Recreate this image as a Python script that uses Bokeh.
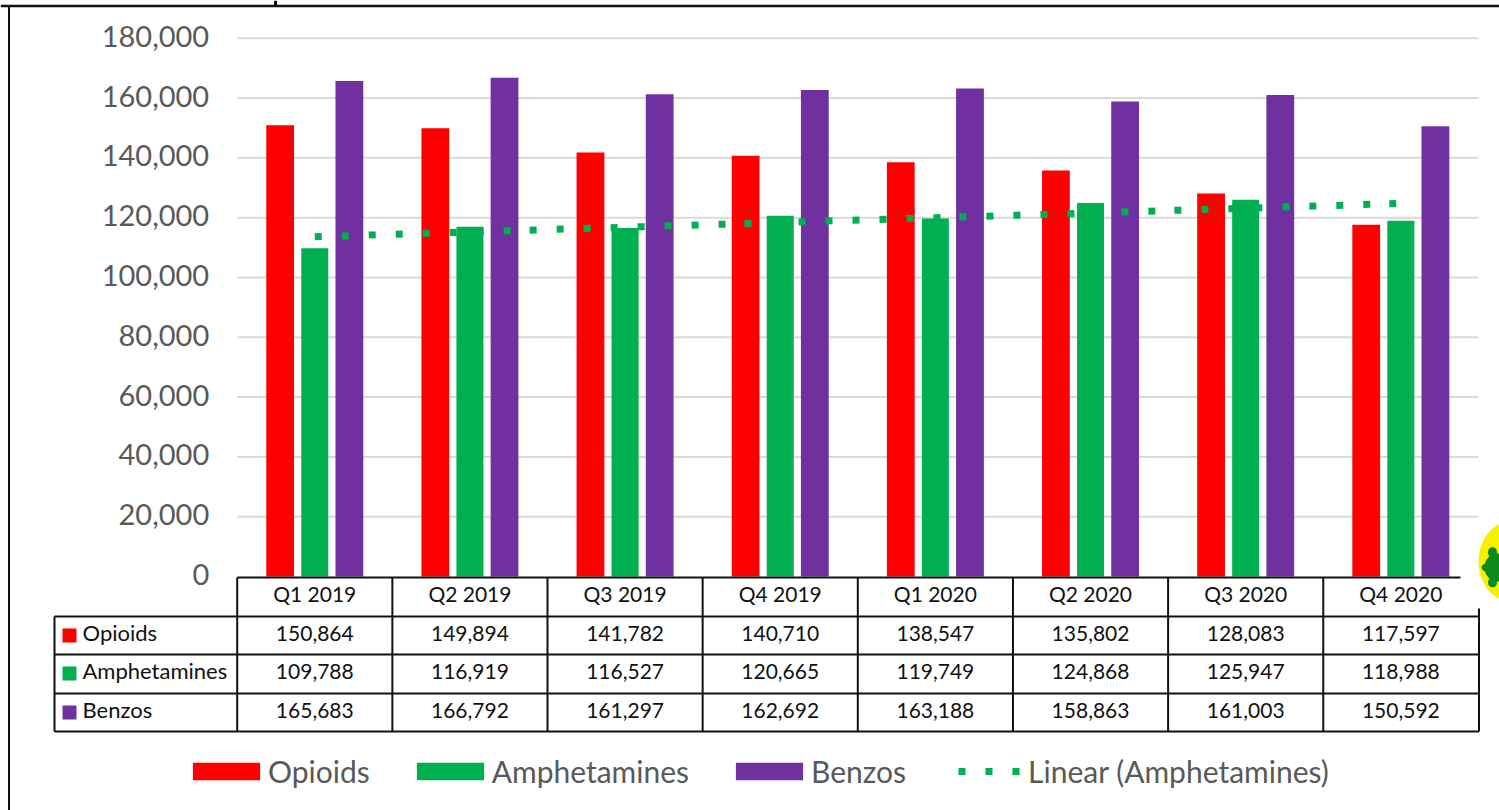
from bokeh.plotting import figure
from bokeh.models import LinearAxis, FixedTicker, NumeralTickFormatter, Legend, LegendItem, Range1d
from bokeh.core.properties import value
from bokeh.embed import file_html
from bokeh.resources import INLINE

quarters = ["Q1 2019", "Q2 2019", "Q3 2019", "Q4 2019", "Q1 2020", "Q2 2020", "Q3 2020", "Q4 2020"]
opioids = [150864, 149894, 141782, 140710, 138547, 135802, 128083, 117597]
amphetamines = [109788, 116919, 116527, 120665, 119749, 124868, 125947, 118988]
benzos = [165683, 166792, 161297, 162692, 163188, 158863, 161003, 150592]
linear_amphetamines = [113610, 115200, 116790, 118380, 119980, 121570, 123160, 124750]
y_ticks = [0, 20000, 40000, 60000, 80000, 100000, 120000, 140000, 160000, 180000]
series_names = ["Opioids", "Amphetamines", "Benzos"]
series_colors = ["#FF0000", "#00B050", "#7030A0"]
FONT = "Lato"
W, H = 1499, 810
PX0, PW = 236.7, 155.15      # plot-area left edge and width of one quarter, px
PY0, PY180 = 576.0, 37.7     # pixel rows of y=0 and y=180000
K = 180000 / (PY0 - PY180)

def fx(px):
    return (px - PX0) / PW

def fy(py):
    return (PY0 - py) * K

p = figure(width=W, height=H, output_backend="svg", toolbar_location=None,
           x_range=Range1d(fx(0), fx(W)), y_range=Range1d(fy(H), fy(0)),
           x_axis_location=None, y_axis_location=None, min_border=0,
           outline_line_color=None, background_fill_color="white", border_fill_color="white")
p.grid.visible = False
p.styles = {"position": "absolute", "left": "0px", "top": "0px"}
# tick labels sit 2px above their gridlines in the reference
p.extra_y_ranges = {"labels": Range1d(fy(H) - 2 * K, fy(0) - 2 * K)}

# gridlines
gt = [t for t in y_ticks if t > 0]
p.segment(x0=[0] * len(gt), x1=[8] * len(gt), y0=gt, y1=gt, line_color="#D9D9D9", line_width=2)

# bars and trend
centers = [i + 0.5 for i in range(8)]
off = 34.6 / PW
bw = 27.8 / PW
r1 = p.vbar(x=[c - off for c in centers], top=opioids, width=bw, bottom=0, fill_color=series_colors[0], line_color=None)
r2 = p.vbar(x=centers, top=amphetamines, width=bw - 0.8 / PW, bottom=0, fill_color=series_colors[1], line_color=None)
r3 = p.vbar(x=[c + off for c in centers], top=benzos, width=bw, bottom=0, fill_color=series_colors[2], line_color=None)
p.line(x=centers, y=linear_amphetamines, line_color=series_colors[1], line_width=7,
       line_dash="7 20 7 20 7 20 7 20 7 20 7 20 7 20 7 19", line_cap="butt")
# legend key of the trend: three dots, placed as in the reference
r4 = p.line(x=[0, 1], y=[float("nan"), float("nan")], line_color=series_colors[1], line_width=7,
            line_dash="7 20", line_dash_offset=13, line_cap="butt")

# axes
ya = LinearAxis(fixed_location=0, y_range_name="labels", ticker=FixedTicker(ticks=y_ticks),
                formatter=NumeralTickFormatter(format="0,0"),
                axis_line_color=None, major_tick_line_color=None, minor_tick_line_color=None,
                major_label_text_font=FONT, major_label_text_font_size="29px", major_label_text_color="#595959",
                major_label_standoff=22)
p.add_layout(ya, "left")
xa = LinearAxis(fixed_location=0, ticker=FixedTicker(ticks=centers),
                major_label_overrides={c: q for c, q in zip(centers, quarters)},
                axis_line_color=None, major_tick_line_color=None, minor_tick_line_color=None,
                major_label_text_font=FONT, major_label_text_font_size="21px", major_label_text_color="#111111",
                major_label_standoff=-2)
p.add_layout(xa, "below")

# data table
row_py = [577, 616, 654, 693, 731]
right = fx(1478.5)
tx0 = [fx(236.7)] + [fx(54)] * 4
tx1 = [right] * 5
ty = [fy(v) for v in row_py]
p.segment(x0=tx0, x1=tx1, y0=ty, y1=ty, line_color="#111111", line_width=2)
vx = [fx(54)] + list(range(0, 8)) + [right]
vt = [ty[1]] + [ty[0]] * 9
vb = [ty[4]] * 10
p.segment(x0=vx, x1=vx, y0=vt, y1=vb, line_color="#111111", line_width=2)

rows = [opioids, amphetamines, benzos]
for i, (name, col, vals) in enumerate(zip(series_names, series_colors, rows)):
    a, b = row_py[i + 1], row_py[i + 2]
    p.quad(left=[fx(62)], right=[fx(76)], top=[fy(a + 12)], bottom=[fy(a + 26)], fill_color=col, line_color=None)
    p.text(x=[fx(82)], y=[fy((a + b) / 2 - 3.5)], text=[name], text_font=value(FONT), text_font_size="22px",
           text_color="#111111", text_align="left", text_baseline="middle")
    p.text(x=centers, y=[fy((a + b) / 2 - 2.5)] * 8, text=[f"{v:,}" for v in vals], text_font=value(FONT),
           text_font_size="21px", text_color="#111111", text_align="center", text_baseline="middle")

# slide frame around the chart
p.segment(x0=[fx(0), fx(8.5), fx(275)], x1=[fx(W), fx(8.5), fx(275)],
          y0=[fy(5.5), fy(5), fy(0)], y1=[fy(5.5), fy(H), fy(5)],
          line_color="#111111", line_width=[2.5, 2, 3])

# corner picture
p.quad(left=[fx(1460)], right=[fx(W)], top=[fy(522)], bottom=[fy(608)], fill_color="white", line_color=None)
p.ellipse(x=[fx(1510)], y=[fy(561)], width=[64 / PW], height=[80 * K], fill_color="#F8F000", line_color=None)
p.ellipse(x=[fx(1497), fx(1492), fx(1486), fx(1492)], y=[fy(567), fy(552), fy(567), fy(582)],
          width=[26 / PW, 9 / PW, 10 / PW, 9 / PW], height=[28 * K, 11 * K, 8 * K, 10 * K],
          fill_color="#0E8A1C", line_color=None)

# legend
legend = Legend(items=[LegendItem(label="Opioids", renderers=[r1]),
                       LegendItem(label="Amphetamines", renderers=[r2]),
                       LegendItem(label="Benzos", renderers=[r3]),
                       LegendItem(label="Linear (Amphetamines)", renderers=[r4])],
                orientation="horizontal", location=(184, 810 - 789), padding=0, margin=0,
                spacing=38, label_standoff=0, glyph_width=84, glyph_height=22, label_height=18,
                label_text_font=FONT, label_text_font_size="30px", label_text_color="#595959",
                background_fill_alpha=0, border_line_color=None)
p.add_layout(legend, "center")

open("out.html", "w").write(file_html(p, INLINE))
